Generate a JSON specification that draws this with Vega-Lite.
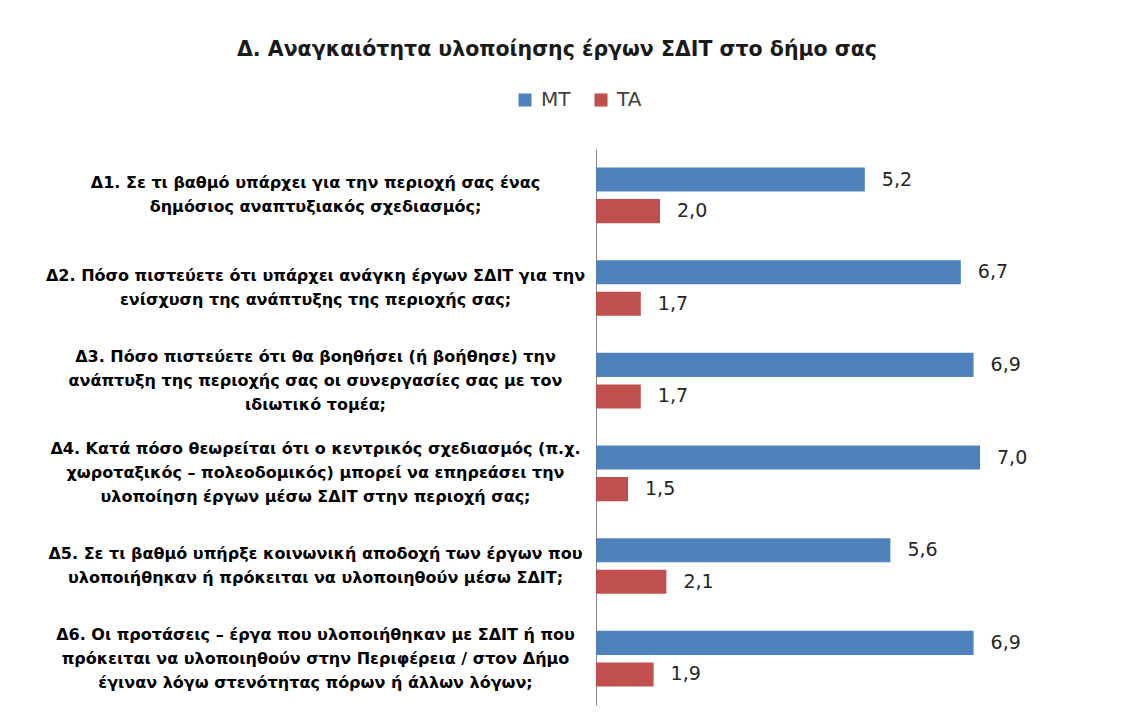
{
  "$schema": "https://vega.github.io/schema/vega-lite/v6.json",
  "width": 448,
  "height": 556,
  "autosize": "none",
  "padding": {"left": 596, "top": 149, "right": 83, "bottom": 19},
  "background": "white",
  "title": {
    "text": "Δ. Αναγκαιότητα υλοποίησης έργων ΣΔΙΤ  στο δήμο σας",
    "anchor": "middle",
    "frame": "group",
    "dx": -263,
    "offset": 30,
    "font": "DejaVu Sans",
    "fontSize": 20.5,
    "fontWeight": "bold",
    "color": "#1a1a1a"
  },
  "config": {
    "view": {"stroke": null},
    "locale": {"number": {"decimal": ",", "thousands": ".", "grouping": [3], "currency": ["", " €"]}}
  },
  "data": {
    "values": [
      {"q": "Δ1. Σε τι βαθμό υπάρχει για την περιοχή σας ένας|δημόσιος αναπτυξιακός σχεδιασμός;", "series": "MT", "value": 5.2},
      {"q": "Δ1. Σε τι βαθμό υπάρχει για την περιοχή σας ένας|δημόσιος αναπτυξιακός σχεδιασμός;", "series": "TA", "value": 2.0},
      {"q": "Δ2. Πόσο πιστεύετε ότι υπάρχει ανάγκη έργων ΣΔΙΤ για την|ενίσχυση της ανάπτυξης της περιοχής σας;", "series": "MT", "value": 6.7},
      {"q": "Δ2. Πόσο πιστεύετε ότι υπάρχει ανάγκη έργων ΣΔΙΤ για την|ενίσχυση της ανάπτυξης της περιοχής σας;", "series": "TA", "value": 1.7},
      {"q": "Δ3. Πόσο πιστεύετε ότι θα βοηθήσει (ή βοήθησε) την|ανάπτυξη της περιοχής σας οι συνεργασίες σας με τον|ιδιωτικό τομέα;", "series": "MT", "value": 6.9},
      {"q": "Δ3. Πόσο πιστεύετε ότι θα βοηθήσει (ή βοήθησε) την|ανάπτυξη της περιοχής σας οι συνεργασίες σας με τον|ιδιωτικό τομέα;", "series": "TA", "value": 1.7},
      {"q": "Δ4. Κατά πόσο θεωρείται ότι ο κεντρικός σχεδιασμός  (π.χ.|χωροταξικός – πολεοδομικός) μπορεί να επηρεάσει την|υλοποίηση έργων μέσω ΣΔΙΤ στην περιοχή σας;", "series": "MT", "value": 7.0},
      {"q": "Δ4. Κατά πόσο θεωρείται ότι ο κεντρικός σχεδιασμός  (π.χ.|χωροταξικός – πολεοδομικός) μπορεί να επηρεάσει την|υλοποίηση έργων μέσω ΣΔΙΤ στην περιοχή σας;", "series": "TA", "value": 1.5},
      {"q": "Δ5. Σε τι βαθμό υπήρξε κοινωνική αποδοχή των έργων που|υλοποιήθηκαν ή πρόκειται να υλοποιηθούν μέσω ΣΔΙΤ;", "series": "MT", "value": 5.6},
      {"q": "Δ5. Σε τι βαθμό υπήρξε κοινωνική αποδοχή των έργων που|υλοποιήθηκαν ή πρόκειται να υλοποιηθούν μέσω ΣΔΙΤ;", "series": "TA", "value": 2.1},
      {"q": "Δ6. Οι προτάσεις – έργα που υλοποιήθηκαν με ΣΔΙΤ ή που|πρόκειται να υλοποιηθούν στην Περιφέρεια / στον Δήμο|έγιναν λόγω στενότητας πόρων ή άλλων λόγων;", "series": "MT", "value": 6.9},
      {"q": "Δ6. Οι προτάσεις – έργα που υλοποιήθηκαν με ΣΔΙΤ ή που|πρόκειται να υλοποιηθούν στην Περιφέρεια / στον Δήμο|έγιναν λόγω στενότητας πόρων ή άλλων λόγων;", "series": "TA", "value": 1.9}
    ]
  },
  "encoding": {
    "y": {
      "field": "q",
      "type": "nominal",
      "sort": null,
      "scale": {"paddingInner": 0.4, "paddingOuter": 0.2},
      "axis": {
        "title": null,
        "ticks": false,
        "domain": true,
        "domainColor": "#868686",
        "domainWidth": 1,
        "labelExpr": "split(datum.label, '|')",
        "labelAlign": "center",
        "labelBaseline": "middle",
        "labelOffset": {"condition": {"test": "length(split(datum.label, '|')) == 3", "value": -24}, "value": -12},
        "labelPadding": 281,
        "labelFont": "DejaVu Sans",
        "labelFontWeight": "bold",
        "labelFontSize": 16,
        "labelLineHeight": 24,
        "labelColor": "#000000",
        "labelLimit": 700
      }
    },
    "yOffset": {
      "field": "series",
      "type": "nominal",
      "scale": {"domain": ["MT", "TA"], "paddingInner": 0.24, "paddingOuter": 0}
    },
    "x": {
      "field": "value",
      "type": "quantitative",
      "scale": {"domain": [1, 8], "nice": false, "zero": false},
      "axis": null
    }
  },
  "layer": [
    {
      "mark": {"type": "bar", "clip": true},
      "encoding": {
        "color": {
          "field": "series",
          "type": "nominal",
          "scale": {"domain": ["MT", "TA"], "range": ["#4F81BD", "#C0504D"]},
          "legend": {
            "title": null,
            "orient": "none",
            "direction": "horizontal",
            "legendX": -81,
            "legendY": -59,
            "symbolType": "square",
            "symbolSize": 170,
            "symbolStrokeWidth": 0,
            "labelFont": "DejaVu Sans",
            "labelFontSize": 20,
            "labelColor": "#404040",
            "columnPadding": 20,
            "labelOffset": 6
          }
        }
      }
    },
    {
      "mark": {
        "type": "text",
        "align": "left",
        "baseline": "middle",
        "dx": 17,
        "font": "DejaVu Sans",
        "fontSize": 19,
        "color": "#262626"
      },
      "encoding": {
        "text": {"field": "value", "type": "quantitative", "format": ".1f"}
      }
    }
  ]
}
